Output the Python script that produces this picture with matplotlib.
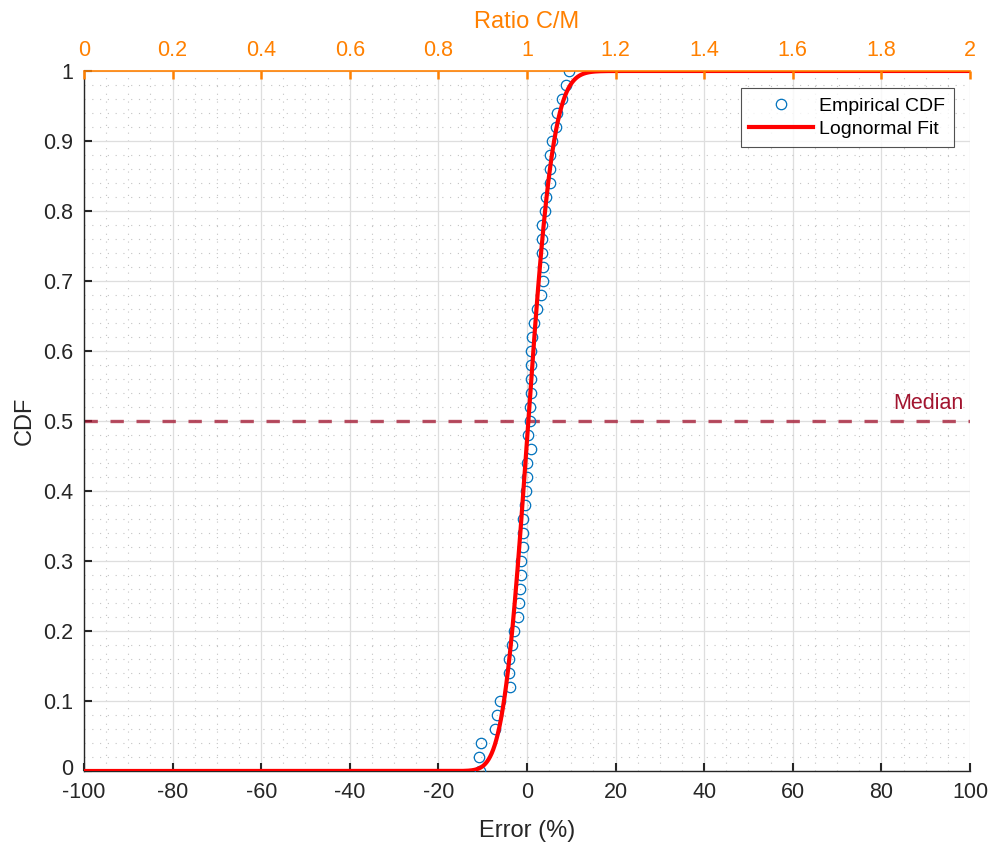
import math
import numpy as np
import matplotlib
matplotlib.use("Agg")
import matplotlib.pyplot as plt
import matplotlib.transforms as mtransforms
from matplotlib.ticker import MultipleLocator

plt.rcParams['font.family'] = ['Liberation Sans', 'DejaVu Sans']

# Empirical CDF data: error (%) and cumulative probability
emp_err = [-10.7, -10.8, -10.3, -7.3, -6.8, -6.0, -3.9, -4.1, -4.0, -3.4,
           -3.0, -2.1, -1.7, -1.6, -1.4, -1.4, -1.0, -0.8, -0.8, -0.4,
           -0.2, 0.1, 0.1, 0.8, 0.3, 0.6, 0.7, 0.8, 1.0, 0.8,
           0.8, 1.1, 1.6, 2.3, 3.1, 3.6, 3.6, 3.5, 3.5, 3.3,
           4.1, 4.4, 5.1, 5.3, 5.3, 5.6, 6.5, 6.8, 8.0, 8.7,
           9.5]
emp_cdf = [0.00, 0.02, 0.04, 0.06, 0.08, 0.10, 0.12, 0.14, 0.16, 0.18,
           0.20, 0.22, 0.24, 0.26, 0.28, 0.30, 0.32, 0.34, 0.36, 0.38,
           0.40, 0.42, 0.44, 0.46, 0.48, 0.50, 0.52, 0.54, 0.56, 0.58,
           0.60, 0.62, 0.64, 0.66, 0.68, 0.70, 0.72, 0.74, 0.76, 0.78,
           0.80, 0.82, 0.84, 0.86, 0.88, 0.90, 0.92, 0.94, 0.96, 0.98,
           1.00]

# Lognormal fit parameters on ratio C/M
ln_mu = 0.003
ln_sigma = 0.044
median_level = 0.5

x_ticks = [-100, -80, -60, -40, -20, 0, 20, 40, 60, 80, 100]
y_ticks = [0, 0.1, 0.2, 0.3, 0.4, 0.5, 0.6, 0.7, 0.8, 0.9, 1]
top_ticks = [0, 0.2, 0.4, 0.6, 0.8, 1, 1.2, 1.4, 1.6, 1.8, 2]

fit_err = np.linspace(-99.999, 100, 4000)
ratio = 1 + fit_err / 100.0
fit_cdf = np.array([0.5 * (1 + math.erf((math.log(r) - ln_mu) / (ln_sigma * math.sqrt(2)))) for r in ratio])

fig = plt.figure(figsize=(9.93, 8.43), dpi=100)
ax = fig.add_axes([0.0846, 0.0854, 0.8922, 0.8304])

orange = '#FF8000'
text_col = '#262626'
median_col = '#A2142F'

ax.set_xlim(-100, 100)
ax.set_ylim(0, 1)
ax.set_xticks(x_ticks)
ax.set_yticks(y_ticks)
ax.set_xticklabels([str(t) for t in x_ticks])
ax.set_yticklabels(['0', '0.1', '0.2', '0.3', '0.4', '0.5', '0.6', '0.7', '0.8', '0.9', '1'],
                   va='center_baseline')
ax.xaxis.set_minor_locator(MultipleLocator(5))
ax.yaxis.set_minor_locator(MultipleLocator(0.02))
ax.grid(True, which='major', color='#DEDEDE', linewidth=0.9, linestyle='-')
ax.grid(True, which='minor', color='#C4C4C4', linewidth=0.8, linestyle=(0, (1, 6)))
ax.set_axisbelow(True)
ax.tick_params(axis='x', which='major', direction='in', length=6, width=1.5,
               labelsize=15.5, colors=text_col, pad=8)
ax.tick_params(axis='y', which='major', direction='in', length=6, width=1.5,
               labelsize=15.5, colors=text_col, pad=8)
ax.tick_params(axis='both', which='minor', length=0)
ax.spines['right'].set_visible(False)
ax.spines['top'].set_visible(False)
for s in ['left', 'bottom']:
    ax.spines[s].set_color(text_col)
    ax.spines[s].set_linewidth(1.0)

# nudge the lowest y tick label up a little so it clears the "-100" label
lbl0 = ax.get_yticklabels()[0]
lbl0.set_transform(lbl0.get_transform() + mtransforms.ScaledTranslation(0, 3 / 72, fig.dpi_scale_trans))

ax.axhline(median_level, color=median_col, alpha=0.75, linewidth=2.4,
           linestyle=(0, (4, 3.8)), zorder=2)
ax.text(98.5, median_level + 0.01, 'Median', color=median_col, fontsize=15.5,
        ha='right', va='bottom')

ax.plot(emp_err, emp_cdf, linestyle='none', marker='o', markersize=7.5,
        markerfacecolor='none', markeredgecolor='#0072BD', markeredgewidth=0.9,
        label='Empirical CDF', zorder=3)
ax.plot(fit_err, fit_cdf, color='#FF0000', linewidth=3, label='Lognormal Fit', zorder=4)

ax.set_xlabel('Error (%)', fontsize=17, color=text_col, labelpad=12)
ax.set_ylabel('CDF', fontsize=17, color=text_col, labelpad=5)

leg = ax.legend(loc='upper right', bbox_to_anchor=(0.982, 0.975), fontsize=14,
                frameon=True, fancybox=False, edgecolor='#262626',
                handlelength=3.3, handletextpad=0.3, borderpad=0.45,
                labelspacing=0.3, borderaxespad=0)
leg.get_frame().set_linewidth(0.8)

ax2 = ax.twiny()
ax2.set_xlim(0, 2)
ax2.set_xticks(top_ticks)
ax2.set_xticklabels(['0', '0.2', '0.4', '0.6', '0.8', '1', '1.2', '1.4', '1.6', '1.8', '2'])
ax2.tick_params(axis='x', direction='in', length=6, width=1.8, colors=orange,
                labelsize=15.5, pad=7)
for s in ['left', 'right', 'bottom']:
    ax2.spines[s].set_visible(False)
ax2.spines['top'].set_color(orange)
ax2.spines['top'].set_linewidth(1.2)
ax2.set_xlabel('Ratio C/M', fontsize=17, color=orange, labelpad=9)

fig.savefig('out.png', dpi=100)
